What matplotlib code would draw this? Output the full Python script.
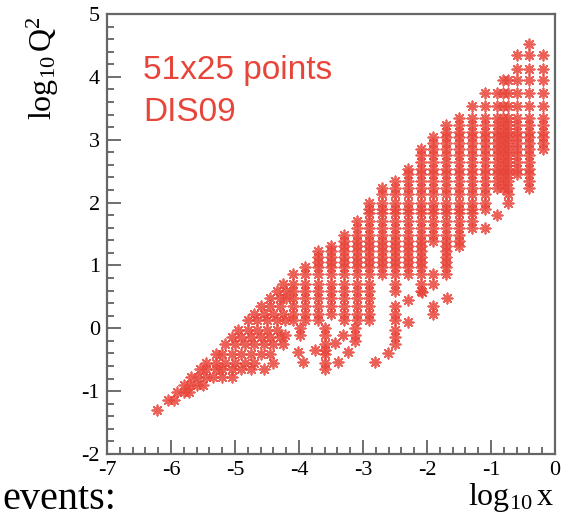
"""
Kinematic coverage of the DIS09 data in the (log10 x, log10 Q^2) plane
"""
import matplotlib
matplotlib.use("Agg")
import matplotlib.pyplot as plt
from matplotlib.ticker import MultipleLocator

# log10 Q^2 of the measured bins
Q2_ROWS = [-1.30, -1.14, -1.02, -0.91, -0.77, -0.65, -0.55, -0.41, -0.35, -0.25,
           -0.14, -0.02, 0.13, 0.23, 0.35, 0.48, 0.59, 0.70, 0.86, 0.98,
           1.05, 1.13, 1.23, 1.31, 1.39, 1.48, 1.59, 1.70, 1.83, 1.90,
           2.00, 2.13, 2.23, 2.35, 2.45, 2.53, 2.65, 2.75, 2.86, 2.95,
           3.05, 3.13, 3.23, 3.35, 3.53, 3.75, 3.95, 4.13, 4.35, 4.53]

# x bins filled from COL_BOT up to COL_TOP (all in log10)
COL_X = [-4.1, -3.9, -3.7, -3.5, -3.3, -3.1, -2.9, -2.7, -2.5, -2.3, -2.1,
         -1.9, -1.7, -1.5, -1.3, -1.1, -0.9, -0.82, -0.74, -0.6, -0.4, -0.19]
COL_TOP = [0.86, 0.98, 1.23, 1.31, 1.48, 1.70, 2.00, 2.23, 2.35, 2.53, 2.86,
           3.05, 3.23, 3.35, 3.53, 3.75, 3.75, 3.95, 3.95, 4.35, 4.53, 4.35]
COL_BOT = [0.13, 0.13, 0.13, 0.23, 0.13, 0.13, 0.13, 0.80, 0.59, 0.86, 0.59,
           1.39, 0.86, 1.31, 1.59, 1.90, 2.23, 2.23, 2.00, 2.45, 2.23, 2.86]

# single points: low-x band and the sparse low-Q^2 tail
EXTRA_X = [-6.22,
           -6.05, -5.95,
           -5.90, -5.80, -5.72,
           -5.80, -5.70, -5.60, -5.50,
           -5.68, -5.58, -5.45, -5.35, -5.20, -5.05,
           -5.55, -5.45, -5.30, -5.20, -5.05, -4.90, -4.75, -4.55,
           -5.45, -5.30, -5.15, -5.00, -4.85, -4.70, -4.40,
           -5.30, -5.20, -5.05, -4.90, -4.75, -4.60, -4.45,
           -5.15, -5.00, -4.85, -4.70, -4.55, -4.40, -4.25,
           -5.05, -4.90, -4.75, -4.60, -4.45, -4.30,
           -4.95, -4.80, -4.65, -4.50, -4.35,
           -4.80, -4.65, -4.50, -4.35, -4.22,
           -4.70, -4.55, -4.40, -4.25,
           -4.60, -4.45, -4.30,
           -4.45, -4.30, -4.20,
           -4.35, -4.20,
           -4.25,
           -4.22, -3.98, -3.98, -4.01, -3.93, -3.75,
           -3.59, -3.59, -3.59, -3.59, -3.59, -3.59, -3.59,
           -3.44, -3.39, -3.31, -3.23, -3.13, -3.13, -3.13,
           -2.81, -2.61, -2.50, -2.50, -2.50, -2.50, -2.50, -2.50,
           -2.29, -2.29, -2.08, -1.90, -1.90, -1.90, -1.90, -1.69,
           -1.10, -0.90]
EXTRA_Q = [-1.30,
           -1.14, -1.14,
           -1.02, -1.02, -1.02,
           -0.91, -0.91, -0.91, -0.91,
           -0.77, -0.77, -0.77, -0.77, -0.77, -0.77,
           -0.65, -0.65, -0.65, -0.65, -0.65, -0.65, -0.65, -0.65,
           -0.55, -0.55, -0.55, -0.55, -0.55, -0.55, -0.55,
           -0.41, -0.41, -0.41, -0.41, -0.41, -0.41, -0.41,
           -0.25, -0.25, -0.25, -0.25, -0.25, -0.25, -0.25,
           -0.14, -0.14, -0.14, -0.14, -0.14, -0.14,
           -0.02, -0.02, -0.02, -0.02, -0.02,
           0.13, 0.13, 0.13, 0.13, 0.13,
           0.23, 0.23, 0.23, 0.23,
           0.35, 0.35, 0.35,
           0.48, 0.48, 0.48,
           0.59, 0.59,
           0.70,
           -0.11, 0.00, -0.11, -0.37, -0.53, -0.35,
           0.00, -0.11, -0.25, -0.35, -0.41, -0.55, -0.65,
           -0.24, -0.53, -0.11, -0.37, 0.00, -0.11, -0.21,
           -0.53, -0.40, 0.35, 0.23, 0.13, -0.02, -0.14, -0.25,
           0.45, 0.10, 0.58, 0.86, 0.70, 0.35, 0.23, 0.48,
           1.59, 1.80]

RED = "#e8453a"

plt.rcParams["font.family"] = "Liberation Serif"
plt.rcParams["axes.unicode_minus"] = False
plt.rcParams["mathtext.fontset"] = "custom"
plt.rcParams["mathtext.rm"] = "Liberation Serif"
plt.rcParams["mathtext.it"] = "Liberation Serif:italic"

fig = plt.figure(figsize=(5.66, 5.17), dpi=100)
ax = fig.add_axes([107 / 566, 63 / 517, 448 / 566, 440 / 517])

xs, qs = [], []
for cx, top, bot in zip(COL_X, COL_TOP, COL_BOT):
    for q in Q2_ROWS:
        if bot - 1e-6 <= q <= top + 1e-6:
            xs.append(cx)
            qs.append(q)
xs += EXTRA_X
qs += EXTRA_Q

# ROOT style "*" marker: eight spokes
ax.scatter(xs, qs, marker=(8, 2, 0), s=55, color=RED, linewidths=1.3,
           alpha=0.85, zorder=3)

ax.set_xlim(-7, 0)
ax.set_ylim(-2, 5)
ax.xaxis.set_major_locator(MultipleLocator(1))
ax.xaxis.set_minor_locator(MultipleLocator(0.2))
ax.yaxis.set_major_locator(MultipleLocator(1))
ax.yaxis.set_minor_locator(MultipleLocator(0.2))
ax.tick_params(which="both", direction="in", color="#555555", width=1.2,
               labelsize=16, pad=5)
ax.tick_params(which="major", length=10)
ax.tick_params(which="minor", length=5)
for sp in ax.spines.values():
    sp.set_color("#666666")
    sp.set_linewidth(1.6)

fig.text(43 / 566, 1 - 68 / 517, r"$\mathrm{log_{10}\,Q^2}$",
         rotation=90, ha="center", va="center", fontsize=23)
fig.text(511 / 566, 1 - 498 / 517, r"$\mathrm{log_{10}\,x}$",
         ha="center", va="center", fontsize=23)

fig.text(143 / 566, 1 - 79 / 517, "51x25 points", color=RED,
         fontsize=24, family="Liberation Sans", va="baseline")
fig.text(143 / 566, 1 - 121 / 517, "DIS09", color=RED,
         fontsize=24, family="Liberation Sans", va="baseline")

fig.text(2 / 566, 1 - 509 / 517, "events:", fontsize=29, va="baseline")

fig.savefig("out.png", dpi=100)
